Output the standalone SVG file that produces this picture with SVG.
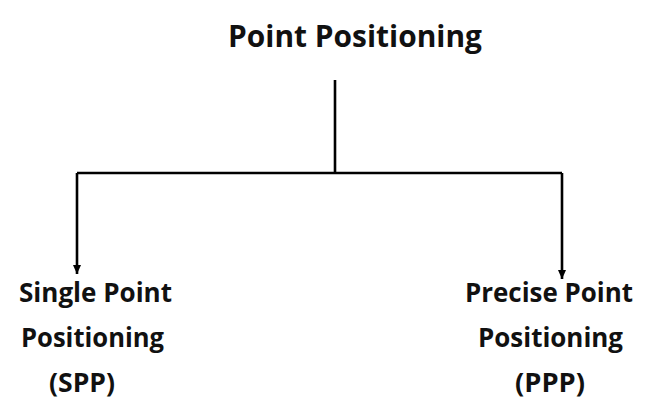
<svg xmlns="http://www.w3.org/2000/svg" width="666" height="414" viewBox="0 0 666 414">
<style>
text{font-family:"Open Sans","Lato","Liberation Sans",sans-serif;font-weight:bold;fill:#111;font-variant-ligatures:none}
.t{font-size:30px}
.l{font-size:26px}
.c{fill:none;stroke:#000;stroke-width:2.6}
</style>
<defs>
<marker id="ah" markerWidth="9" markerHeight="9" refX="9" refY="4.5" orient="auto" markerUnits="userSpaceOnUse" viewBox="0 0 9 9">
<path d="M0,0.5 L9,4.5 L0,8.5 Z" fill="#000"/>
</marker>
</defs>
<rect width="666" height="414" fill="#fff"/>
<g id="connectors">
<path class="c" d="M335,80 V173"/>
<path class="c" d="M77,173 H562"/>
<path class="c" d="M77,173 V274" marker-end="url(#ah)"/>
<path class="c" d="M562,173 V279" marker-end="url(#ah)"/>
</g>
<g id="root">
<text class="t" x="228" y="47" textLength="254" lengthAdjust="spacingAndGlyphs">Point Positioning</text>
</g>
<g id="spp">
<text class="l" x="19" y="302" textLength="153" lengthAdjust="spacingAndGlyphs">Single Point</text>
<text class="l" x="21" y="347" textLength="143" lengthAdjust="spacingAndGlyphs">Positioning</text>
<text class="l" x="49" y="392" textLength="66" lengthAdjust="spacingAndGlyphs">(SPP)</text>
</g>
<g id="ppp">
<text class="l" x="465" y="302" textLength="168" lengthAdjust="spacingAndGlyphs">Precise Point</text>
<text class="l" x="478" y="347" textLength="145" lengthAdjust="spacingAndGlyphs">Positioning</text>
<text class="l" x="515" y="392" textLength="70" lengthAdjust="spacingAndGlyphs">(PPP)</text>
</g>
</svg>
